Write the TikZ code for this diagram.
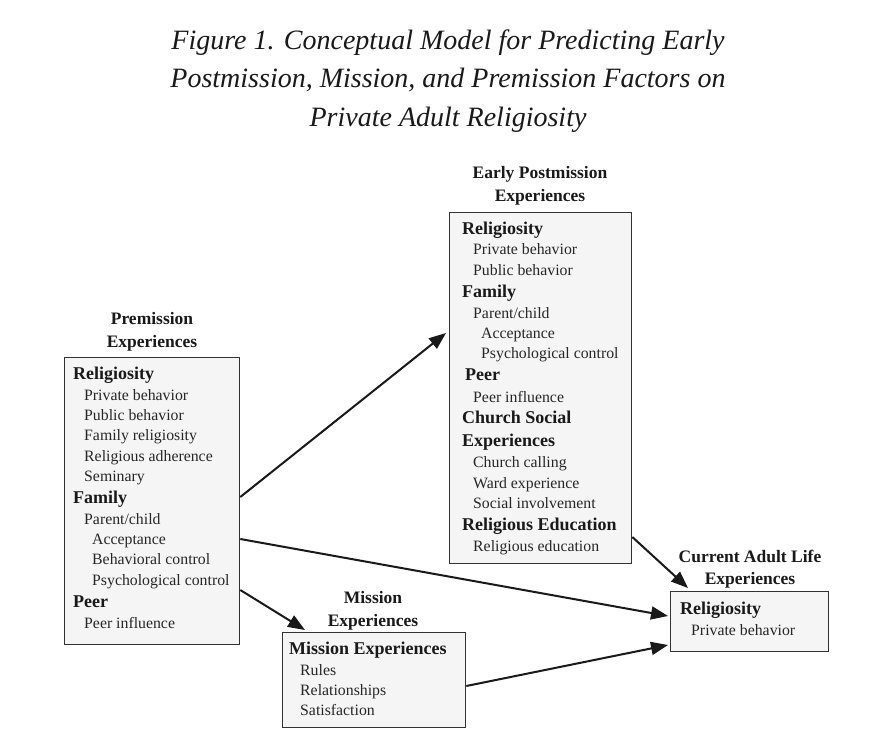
\documentclass[tikz,border=0pt]{standalone}
\usepackage{fontspec}
\setmainfont{Liberation Serif}
\usetikzlibrary{arrows.meta}
\begin{document}
\begin{tikzpicture}[x=1pt,y=-1pt,
  box/.style={draw=black!80, line width=1.3pt, fill=black!4, inner sep=0pt, anchor=north west},
  hd/.style={font=\fontsize{18}{20}\selectfont\bfseries, anchor=mid west, inner sep=0pt, text=black!90, yshift=-3.5pt},
  it/.style={font=\fontsize{15.8}{20}\selectfont, anchor=mid west, inner sep=0pt, text=black!85, yshift=-3.5pt},
  lab/.style={font=\fontsize{17.5}{22.5}\selectfont\bfseries, align=center, anchor=center, inner sep=0pt, text=black!90, yshift=-3pt},
  arr/.style={line width=2pt, draw=black!90, -{Triangle[length=17pt,width=13pt]}}
]
\useasboundingbox[fill=white] (0,0) rectangle (891,755);

% title
\node[font=\fontsize{28}{38.5}\selectfont\itshape, align=center, text=black!90] (title) at (448,81)
  {Figure 1. Conceptual Model for Predicting Early\\Postmission, Mission, and Premission Factors on\\Private Adult Religiosity};

% boxes
\node[box, minimum width=175, minimum height=287] (pre) at (64,357) {};
\node[box, minimum width=182, minimum height=351] (early) at (449,212) {};
\node[box, minimum width=183, minimum height=95] (mis) at (282,632) {};
\node[box, minimum width=158, minimum height=60] (cur) at (670,591) {};

% labels
\node[lab] (prelab) at (152,329) {Premission\\Experiences};
\node[lab] (earlylab) at (540,183) {Early Postmission\\Experiences};
\node[lab] (mislab) at (373,608) {Mission\\Experiences};
\node[lab] (curlab) at (750,566) {Current Adult Life\\Experiences};

% premission content
\node[hd] (p1) at (73,374) {Religiosity};
\node[it] (p2) at (84,395) {Private behavior};
\node[it] (p3) at (84,415) {Public behavior};
\node[it] (p4) at (84,435) {Family religiosity};
\node[it] (p5) at (84,456) {Religious adherence};
\node[it] (p6) at (84,476) {Seminary};
\node[hd] (p7) at (73,498) {Family};
\node[it] (p8) at (84,519) {Parent/child};
\node[it] (p9) at (92,539) {Acceptance};
\node[it] (p10) at (92,559) {Behavioral control};
\node[it] (p11) at (92,580) {Psychological control};
\node[hd] (p12) at (73,602) {Peer};
\node[it] (p13) at (84,623) {Peer influence};

% early postmission content
\node[hd] (e1) at (462,229) {Religiosity};
\node[it] (e2) at (473,249) {Private behavior};
\node[it] (e3) at (473,270) {Public behavior};
\node[hd] (e4) at (462,292) {Family};
\node[it] (e5) at (473,313) {Parent/child};
\node[it] (e6) at (481,333) {Acceptance};
\node[it] (e7) at (481,353) {Psychological control};
\node[hd] (e8) at (465,375) {Peer};
\node[it] (e9) at (473,397) {Peer influence};
\node[hd] (e10) at (462,418) {Church Social};
\node[hd] (e11) at (462,441) {Experiences};
\node[it] (e12) at (473,462) {Church calling};
\node[it] (e13) at (473,483) {Ward experience};
\node[it] (e14) at (473,503) {Social involvement};
\node[hd] (e15) at (462,525) {Religious Education};
\node[it] (e16) at (473,546) {Religious education};

% mission content
\node[hd] (m1) at (289,649) {Mission Experiences};
\node[it] (m2) at (300,670) {Rules};
\node[it] (m3) at (300,690) {Relationships};
\node[it] (m4) at (300,710) {Satisfaction};

% current content
\node[hd] (c1) at (680,609) {Religiosity};
\node[it] (c2) at (691,630) {Private behavior};

% arrows
\draw[arr] (pre.north east) ++(0,140) -- ([shift={(-3,121)}]early.north west);
\draw[arr] (pre.north east) ++(0,182) -- ([shift={(-2,25)}]cur.north west);
\draw[arr] (pre.north east) ++(0,233) -- ([shift={(23,-2)}]mis.north west);
\draw[arr] (mis.north east) ++(0,54) -- ([shift={(-2,54)}]cur.north west);
\draw[arr] (early.north east) ++(0,325) -- ([shift={(18,-3)}]cur.north west);
\end{tikzpicture}
\end{document}
